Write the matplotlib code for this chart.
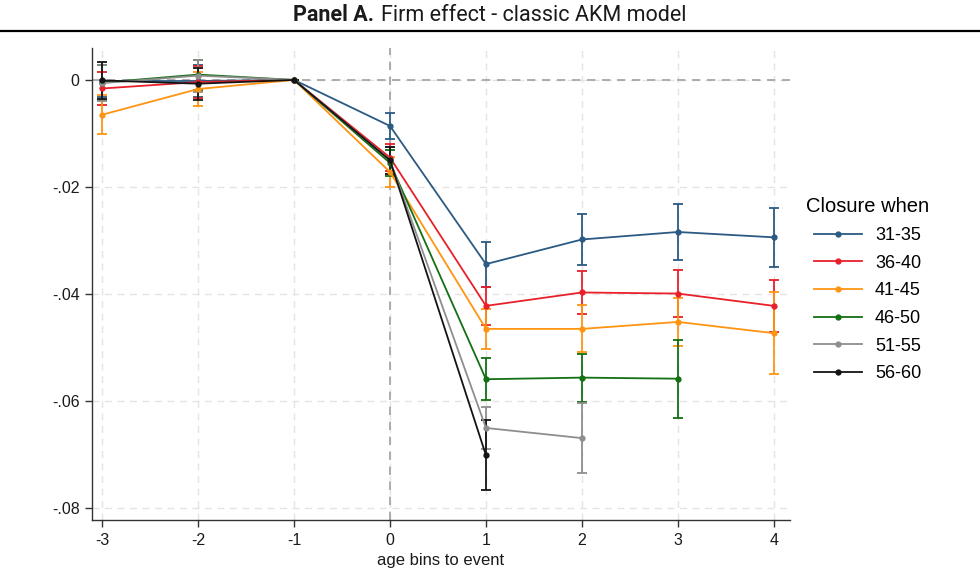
import matplotlib.pyplot as plt
import numpy as np
from matplotlib.lines import Line2D
from matplotlib.offsetbox import TextArea, HPacker, AnchoredOffsetbox

bins = [-3, -2, -1, 0, 1, 2, 3, 4]
groups = ['31-35', '36-40', '41-45', '46-50', '51-55', '56-60']

# point estimates by closure-age group (nan = not estimated)
est_3135 = [-0.0002, -0.0002, 0.0, -0.0086, -0.0344, -0.0298, -0.0284, -0.0294]
est_3640 = [-0.0016, -0.0004, 0.0, -0.0145, -0.0422, -0.0397, -0.0399, -0.0422]
est_4145 = [-0.0065, -0.0017, 0.0, -0.0172, -0.0465, -0.0465, -0.0452, -0.0473]
est_4650 = [-0.0005, 0.0010, 0.0, -0.0155, -0.0559, -0.0556, -0.0558, np.nan]
est_5155 = [-0.0006, 0.0008, 0.0, -0.0150, -0.0650, -0.0669, np.nan, np.nan]
est_5660 = [-0.0001, -0.0007, 0.0, -0.0150, -0.0701, np.nan, np.nan, np.nan]

# half-width of 95% confidence intervals
ci_3135 = [0.0030, 0.0030, 0.0, 0.0025, 0.0042, 0.0048, 0.0052, 0.0055]
ci_3640 = [0.0030, 0.0030, 0.0, 0.0025, 0.0036, 0.0040, 0.0044, 0.0048]
ci_4145 = [0.0036, 0.0032, 0.0, 0.0028, 0.0038, 0.0044, 0.0045, 0.0077]
ci_4650 = [0.0033, 0.0028, 0.0, 0.0025, 0.0039, 0.0045, 0.0073, np.nan]
ci_5155 = [0.0033, 0.0030, 0.0, 0.0025, 0.0040, 0.0065, np.nan, np.nan]
ci_5660 = [0.0034, 0.0030, 0.0, 0.0025, 0.0065, np.nan, np.nan, np.nan]

estimates = [est_3135, est_3640, est_4145, est_4650, est_5155, est_5660]
cis = [ci_3135, ci_3640, ci_4145, ci_4650, ci_5155, ci_5660]
colors = ['#2b5a82', '#e8202a', '#ff9412', '#137013', '#8e8e8e', '#141414']

plt.rcParams['font.family'] = ['Liberation Sans', 'DejaVu Sans']

fig = plt.figure(figsize=(9.8, 5.83), dpi=100)
ax = fig.add_axes([0.094, 0.108, 0.712, 0.81])

# heading: bold panel tag followed by plain text, centred as one line
head = HPacker(children=[
    TextArea('Panel A.', textprops=dict(fontsize=15.5, fontweight='bold',
                                        family='Roboto', color='#1a1a1a')),
    TextArea('Firm effect - classic AKM model',
             textprops=dict(fontsize=15.5, family='Roboto', color='#1a1a1a')),
], pad=0, sep=5, align='baseline')
fig.add_artist(AnchoredOffsetbox(loc='center', child=head, frameon=False, pad=0,
                                 bbox_to_anchor=(0.5, 0.975),
                                 bbox_transform=fig.transFigure))
fig.add_artist(Line2D([0.0, 1.0], [0.947, 0.947], color='black', lw=1.6,
                      transform=fig.transFigure))

x = np.array(bins, dtype=float)
handles = []
for name, est, ci, c in zip(groups, estimates, cis, colors):
    est = np.array(est)
    ci = np.array(ci)
    ok = ~np.isnan(est)
    ax.errorbar(x[ok], est[ok], yerr=ci[ok], color=c, lw=1.3, marker='o',
                markersize=3.5, capsize=3.5, capthick=1.3, elinewidth=1.3,
                zorder=3)
    handles.append(Line2D([], [], color=c, lw=1.3, marker='o', markersize=3.5,
                          label=name))

ax.axhline(0, color='#a0a0a0', lw=1.2, ls=(0, (5, 4)), zorder=1)
ax.axvline(0, color='#a0a0a0', lw=1.2, ls=(0, (5, 4)), zorder=1)

ax.set_xlim(-3.104, 4.167)
ax.set_ylim(-0.0822, 0.006)
ax.set_xticks(bins)
ax.set_xticklabels([str(b) for b in bins])
yt = [0, -0.02, -0.04, -0.06, -0.08]
ax.set_yticks(yt)
ax.set_yticklabels(['0', '-.02', '-.04', '-.06', '-.08'])
ax.grid(True, color='#e4e4e4', lw=1.0, ls=(0, (5, 4)), zorder=0)
ax.set_axisbelow(True)

for s in ['top', 'right']:
    ax.spines[s].set_visible(False)
for s in ['left', 'bottom']:
    ax.spines[s].set_color('#333333')
    ax.spines[s].set_linewidth(1.0)
ax.tick_params(axis='both', length=5, width=1.0, color='#333333',
               labelsize=11.5, labelcolor='#1a1a1a', pad=4)
ax.set_xlabel('age bins to event', fontsize=12, color='#1a1a1a', labelpad=4)

leg = ax.legend(handles=handles, title='Closure when', loc='upper left',
                bbox_to_anchor=(1.008, 0.706), frameon=False, fontsize=13,
                title_fontsize=14.5, handlelength=2.65, handletextpad=0.7,
                labelspacing=0.59, borderaxespad=0.2)

fig.savefig('out.png', dpi=100)
